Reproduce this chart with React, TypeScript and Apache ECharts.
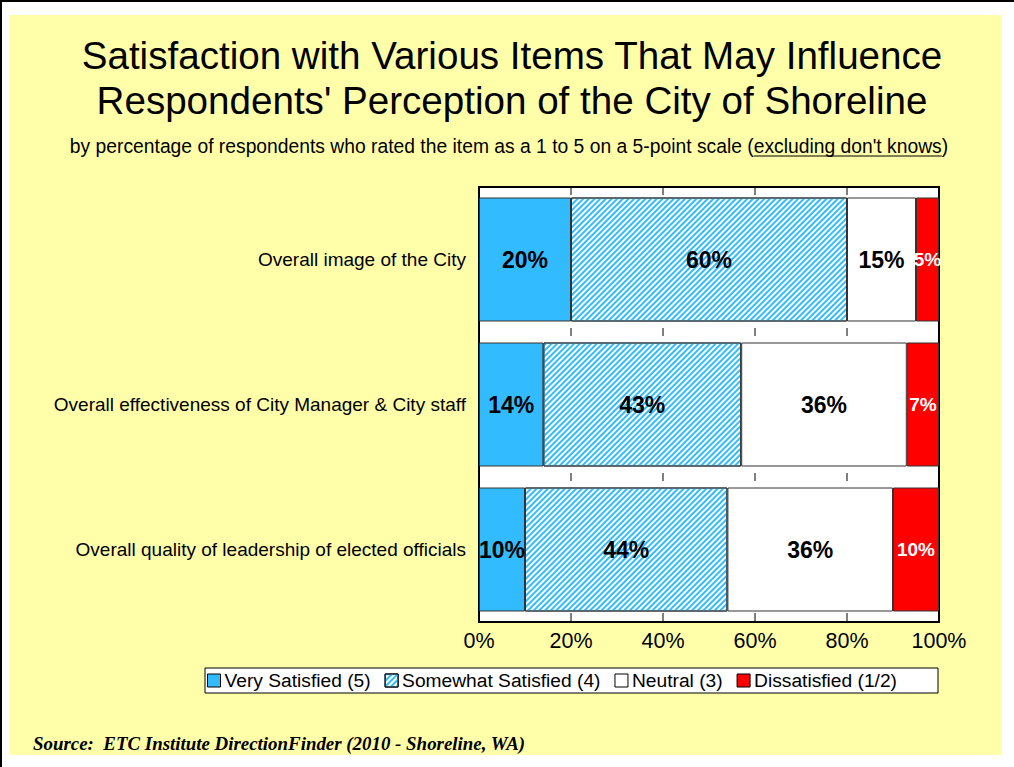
import React, { useEffect, useRef } from "react";
import * as echarts from "echarts";

const categories = [
  "Overall image of the City",
  "Overall effectiveness of City Manager & City staff",
  "Overall quality of leadership of elected officials",
];
const seriesNames = [
  "Very Satisfied (5)",
  "Somewhat Satisfied (4)",
  "Neutral (3)",
  "Dissatisfied (1/2)",
];
const verySatisfied = [20, 14, 10];
const somewhatSatisfied = [60, 43, 44];
const neutral = [15, 36, 36];
const dissatisfied = [5, 7, 10];
const valueTicks = [0, 20, 40, 60, 80, 100];

const titleText =
  "Satisfaction with Various Items That May Influence\nRespondents' Perception of the City of Shoreline";
const subtitleMain =
  "by percentage of respondents who rated the item as a 1 to 5 on a 5-point scale (";
const subtitleUnderlined = "excluding don't knows";
const subtitleEnd = ")";
const sourceText = "Source:  ETC Institute DirectionFinder (2010 - Shoreline, WA)";

const SANS = "'Liberation Sans', Arial, sans-serif";

function measure(text: string, font: string): number {
  const c = document.createElement("canvas");
  const ctx = c.getContext("2d")!;
  ctx.font = font;
  return ctx.measureText(text).width;
}

export default function App() {
  const ref = useRef<HTMLDivElement>(null);
  useEffect(() => {
    if (!ref.current) return;
    const chart = echarts.init(ref.current, undefined, { renderer: "svg" });

    const subSize = 19.3;
    const subFont = `${subSize}px 'Liberation Sans'`;
    const w1 = measure(subtitleMain, subFont);
    const w2 = measure(subtitleUnderlined, subFont);
    const w3 = measure(subtitleEnd, subFont);
    const subX0 = 509 - (w1 + w2 + w3) / 2;
    const subY = 146;

    const inner = valueTicks.slice(1, -1);
    const boundaryTicks: number[][] = [];
    for (let i = 0; i < categories.length; i++) {
      for (const t of inner) boundaryTicks.push([t, i]);
    }

    const blackLabel = {
      show: true,
      position: "inside",
      formatter: "{c}%",
      color: "#000",
      fontSize: 23,
      fontWeight: "bold",
      fontFamily: SANS,
    };
    const border = { borderColor: "#333", borderWidth: 1 };
    const lastIdx = categories.length - 1;

    const option: any = {
      animation: false,
      backgroundColor: "#ffffff",
      title: {
        text: titleText,
        left: 507,
        textAlign: "center",
        top: 28,
        textStyle: {
          fontSize: 38.6,
          lineHeight: 45,
          fontWeight: "normal",
          color: "#000",
          fontFamily: SANS,
        },
      },
      graphic: [
        {
          type: "line",
          z: -10,
          shape: { x1: 0, y1: 1, x2: 1014, y2: 1 },
          style: { stroke: "#000", lineWidth: 2 },
        },
        {
          type: "line",
          z: -10,
          shape: { x1: 1, y1: 0, x2: 1, y2: 767 },
          style: { stroke: "#000", lineWidth: 2 },
        },
        {
          type: "rect",
          z: -10,
          shape: { x: 9, y: 15, width: 993, height: 740 },
          style: { fill: "#FFFFAA" },
        },
        {
          type: "text",
          x: subX0,
          y: subY,
          style: { text: subtitleMain, font: subFont, fill: "#000", textVerticalAlign: "middle" },
        },
        {
          type: "text",
          x: subX0 + w1,
          y: subY,
          style: { text: subtitleUnderlined, font: subFont, fill: "#000", textVerticalAlign: "middle" },
        },
        {
          type: "line",
          shape: { x1: subX0 + w1, y1: subY + 10, x2: subX0 + w1 + w2, y2: subY + 10 },
          style: { stroke: "#000", lineWidth: 1 },
        },
        {
          type: "text",
          x: subX0 + w1 + w2,
          y: subY,
          style: { text: subtitleEnd, font: subFont, fill: "#000", textVerticalAlign: "middle" },
        },
        {
          type: "rect",
          shape: { x: 205, y: 668, width: 733, height: 25 },
          style: { fill: "#fff", stroke: "#000", lineWidth: 1 },
          z: 1,
        },
        {
          type: "text",
          x: 33,
          y: 743,
          style: {
            text: sourceText,
            font: `italic bold 18.9px 'Liberation Serif'`,
            fill: "#000",
            textVerticalAlign: "middle",
          },
        },
      ],
      legend: {
        data: seriesNames,
        left: 207,
        top: 671,
        itemGap: 14,
        itemWidth: 13,
        itemHeight: 13,
        padding: 0,
        z: 5,
        icon: "rect",
        textStyle: { fontSize: 19.2, color: "#000", fontFamily: SANS, padding: [0, 0, 0, -1] },
        itemStyle: { borderColor: "#000", borderWidth: 1 },
      },
      grid: {
        left: 479,
        right: 75,
        top: 187,
        bottom: 145,
        show: true,
        backgroundColor: "#ffffff",
        borderColor: "#000",
        borderWidth: 2,
        containLabel: false,
      },
      xAxis: {
        type: "value",
        min: 0,
        max: 100,
        interval: 20,
        position: "bottom",
        axisLine: { show: false },
        axisTick: { show: false },
        splitLine: { show: false },
        axisLabel: {
          formatter: "{value}%",
          fontSize: 21.5,
          color: "#000",
          fontFamily: SANS,
          margin: 8,
        },
      },
      yAxis: {
        type: "category",
        data: categories,
        inverse: true,
        axisLine: { show: false },
        axisTick: { show: false },
        axisLabel: { fontSize: 19, color: "#000", fontFamily: SANS, margin: 13 },
      },
      series: [
        {
          name: seriesNames[0],
          type: "bar",
          stack: "total",
          barCategoryGap: "14.5%",
          data: verySatisfied,
          itemStyle: { color: "#33BBFF", ...border },
          label: blackLabel,
        },
        {
          name: seriesNames[1],
          type: "bar",
          stack: "total",
          data: somewhatSatisfied,
          itemStyle: {
            color: "#ffffff",
            ...border,
            decal: {
              symbol: "rect",
              symbolSize: 1,
              color: "#33BBFF",
              dashArrayX: [1, 0],
              dashArrayY: [1.5, 1.5],
              rotation: -Math.PI / 4,
            },
          },
          label: blackLabel,
        },
        {
          name: seriesNames[2],
          type: "bar",
          stack: "total",
          data: neutral,
          itemStyle: { color: "#ffffff", ...border },
          label: blackLabel,
        },
        {
          name: seriesNames[3],
          type: "bar",
          stack: "total",
          data: dissatisfied,
          itemStyle: { color: "#FF0000", ...border },
          label: { ...blackLabel, color: "#fff", fontSize: 19 },
        },
        {
          type: "custom",
          name: "ticks",
          data: boundaryTicks,
          encode: { x: 0, y: 1 },
          clip: false,
          z: 10,
          renderItem: (params: any, api: any) => {
            const idx = boundaryTicks[params.dataIndex][1];
            const p = api.coord([api.value(0), idx]);
            const band = api.size([0, 1])[1];
            const yBottom = p[1] + band / 2;
            const yTop = p[1] - band / 2;
            const children: any[] = [];
            const st = { stroke: "#000", lineWidth: 1 };
            if (idx === 0) {
              children.push({ type: "line", shape: { x1: p[0], y1: yTop + 1, x2: p[0], y2: yTop + 8 }, style: st });
            }
            if (idx === lastIdx) {
              children.push({ type: "line", shape: { x1: p[0], y1: yBottom - 9, x2: p[0], y2: yBottom - 1 }, style: st });
            } else {
              children.push({ type: "line", shape: { x1: p[0], y1: yBottom - 4, x2: p[0], y2: yBottom + 4 }, style: st });
            }
            return { type: "group", children };
          },
        },
      ],
    };
    chart.setOption(option);
    return () => chart.dispose();
  }, []);
  return (
    <div
      ref={ref}
      style={{ position: "absolute", left: 0, top: 0, width: 1014, height: 767 }}
    />
  );
}
